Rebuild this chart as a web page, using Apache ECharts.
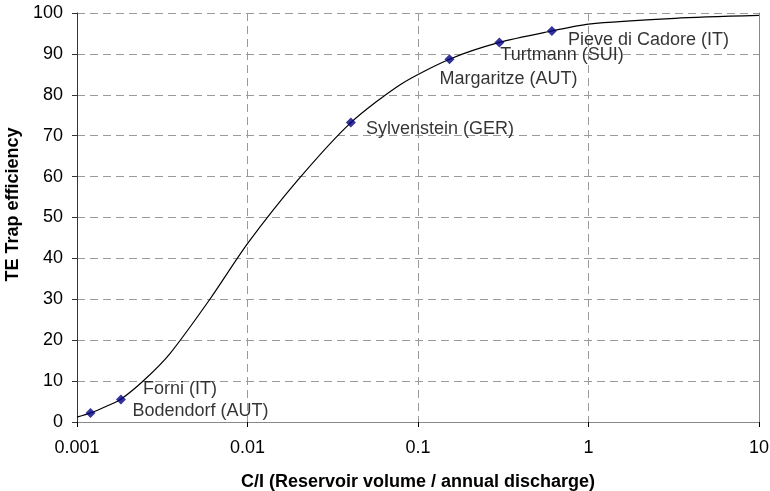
<!DOCTYPE html>
<html>
<head>
<meta charset="utf-8">
<script src="https://cdn.jsdelivr.net/npm/echarts@6/dist/echarts.min.js"></script>
<style>html,body{margin:0;padding:0;background:#fff;}#c{width:770px;height:491px;}</style>
</head>
<body>
<div id="c"></div>
<script>
// Trap-efficiency curve
var curveX = [0.001, 0.0012, 0.0015, 0.0018, 0.00247, 0.00352, 0.00606, 0.01, 0.0196, 0.0404, 0.0794, 0.153, 0.30, 0.61, 1.0, 3.22, 10];
var curveY = [1.2, 2.2, 3.9, 5.5, 10.2, 16.8, 30.2, 43.6, 59.0, 73.2, 82.6, 88.7, 92.8, 95.6, 97.3, 98.7, 99.4];

// Reservoirs
var siteNames = ['Bodendorf (AUT)', 'Forni (IT)', 'Sylvenstein (GER)', 'Margaritze (AUT)', 'Turtmann (SUI)', 'Pieve di Cadore (IT)'];
var siteX = [0.0012, 0.00181, 0.0404, 0.153, 0.30, 0.61];
var siteY = [2.2, 5.5, 73.2, 88.7, 92.8, 95.6];
var labelOffsets = [[37, -2], [17, -10], [10, 6], [-15, 20], [-4, 13], [11, 9]];

var xTickLabels = ['0.001', '0.01', '0.1', '1', '10'];
var yMin = 0, yMax = 100, yStep = 10;

var font = '"Liberation Sans", Arial, sans-serif';
var chart = echarts.init(document.getElementById('c'), null, {renderer: 'canvas'});

var curveData = curveX.map(function (x, i) { return [x, curveY[i]]; });
var siteData = siteX.map(function (x, i) {
  return {
    value: [x, siteY[i]],
    name: siteNames[i],
    label: {offset: labelOffsets[i]}
  };
});

var dash = {color: '#9a9a9a', width: 1, type: [8, 5]};

chart.setOption({
  animation: false,
  backgroundColor: '#ffffff',
  grid: {left: 77, right: 11, top: 13, bottom: 69, containLabel: false, outerBoundsMode: 'none'},
  xAxis: [{
    type: 'log', logBase: 10, min: 0.001, max: 10,
    name: 'C/I (Reservoir volume / annual discharge)',
    nameLocation: 'middle', nameGap: 51,
    nameTextStyle: {fontFamily: font, fontSize: 18, fontWeight: 'bold', color: '#000'},
    axisLine: {show: true, lineStyle: {color: '#000', width: 1.2}},
    axisTick: {show: true, inside: false, length: 5, lineStyle: {color: '#000'}},
    minorTick: {show: false},
    axisLabel: {fontFamily: font, fontSize: 18, color: '#000', margin: 17,
      formatter: function (v, i) { return xTickLabels[i] !== undefined ? xTickLabels[i] : ''; }},
    splitLine: {show: true, lineStyle: dash}
  }, {
    type: 'log', logBase: 10, min: 0.001, max: 10, position: 'top',
    axisLine: {show: true, lineStyle: {color: '#888', width: 1}},
    axisTick: {show: false}, axisLabel: {show: false}, splitLine: {show: false}
  }],
  yAxis: [{
    type: 'value', min: yMin, max: yMax, interval: yStep,
    name: 'TE Trap efficiency', nameLocation: 'middle', nameGap: 44, nameRotate: 90,
    nameTextStyle: {fontFamily: font, fontSize: 18, fontWeight: 'bold', color: '#000', padding: [0, 0, 0, 26]},
    axisLine: {show: true, lineStyle: {color: '#333', width: 1}},
    axisTick: {show: true, inside: false, length: 5, lineStyle: {color: '#333'}},
    axisLabel: {fontFamily: font, fontSize: 18, color: '#000', margin: 14},
    splitLine: {show: true, lineStyle: dash}
  }, {
    type: 'value', min: yMin, max: yMax, interval: yStep, position: 'right',
    axisLine: {show: true, lineStyle: {color: '#888', width: 1}},
    axisTick: {show: false}, axisLabel: {show: false}, splitLine: {show: false}
  }],
  series: [{
    type: 'line',
    data: curveData,
    smooth: 0.25,
    showSymbol: false,
    symbol: 'none',
    lineStyle: {color: '#000', width: 1.2},
    z: 2
  }, {
    type: 'scatter',
    data: siteData,
    symbol: 'diamond',
    symbolSize: 10,
    itemStyle: {color: '#000080'},
    label: {
      show: true, position: 'right', distance: 0,
      formatter: '{b}', fontFamily: font, fontSize: 18, color: '#000'
    },
    z: 3
  }]
});
</script>
</body>
</html>
